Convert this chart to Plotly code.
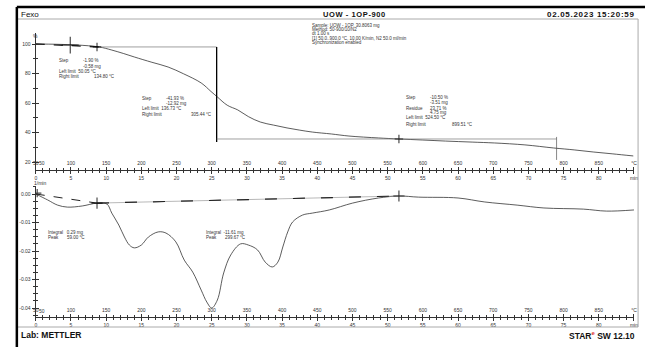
import plotly.graph_objects as go

W, H = 649, 347

# ---------------- data ----------------
tga_temp = [50, 80, 109, 140, 158, 175, 190, 215, 238, 260, 285, 299, 308, 322, 337,
            352, 369, 388, 407, 425, 443, 470, 495, 537, 566, 600, 632, 670, 702,
            745, 786, 815, 842, 870, 899]
tga_mass = [100.0, 99.8, 99.3, 98.0, 95.9, 93.5, 91.2, 87.6, 84.4, 79.8, 73.6, 67.8,
            64.1, 58.5, 55.3, 50.8, 47.1, 45.0, 43.1, 41.6, 40.3, 39.0, 37.6, 36.3,
            35.6, 34.9, 34.2, 33.5, 32.9, 31.6, 29.5, 28.2, 26.8, 25.5, 24.1]

dtg_temp = [50, 67, 81, 95, 116, 137, 151, 158, 168, 176, 183, 190, 200, 210, 224,
            235, 249, 261, 273, 285, 293, 300, 308, 317, 327, 341, 352, 365, 376,
            386, 394, 401, 408, 415, 429, 443, 467, 500, 537, 566, 594, 650, 688,
            734, 772, 828, 861, 900]
dtg_rate = [0.0, -0.0021, -0.0039, -0.0046, -0.0042, -0.0032, -0.0035, -0.0067,
            -0.0109, -0.0151, -0.0179, -0.0189, -0.0179, -0.0151, -0.0133, -0.0137,
            -0.0168, -0.0232, -0.0274, -0.0337, -0.0379, -0.0400, -0.0372, -0.0277,
            -0.0214, -0.0175, -0.0179, -0.0196, -0.0239, -0.0256, -0.0239, -0.0186,
            -0.0133, -0.0098, -0.0074, -0.0067, -0.0056, -0.0032, -0.0014, -0.0007,
            -0.0011, -0.0014, -0.0028, -0.0039, -0.0049, -0.0053, -0.0060, -0.0056]

# evaluation helper lines (TGA)
tan1_temp = [50, 140]
tan1_mass = [100.0, 98.0]
step1_h_temp = [140, 307]
step1_h_mass = [98.0, 98.0]
step_v_temp = [307, 307]
step_v_mass = [98.0, 33.6]
step2_h_temp = [307, 790]
step2_h_mass = [35.6, 35.6]
step2_v_temp = [790, 790]
step2_v_mass = [37.0, 21.4]
tga_mark_temp = [99, 137, 566]
tga_mark_mass = [99.3, 98.0, 35.6]

# evaluation helper lines (DTG)
base1_temp = [50, 137]
base1_rate = [0.0, -0.0032]
base2_temp = [137, 566]
base2_rate = [-0.0032, -0.0007]
dtg_mark_temp = [52, 137, 566]
dtg_mark_rate = [0.0003, -0.0032, -0.0007]

# axis ticks
temp_ticks = list(range(50, 901, 50))
temp_labels = [str(t) for t in range(50, 851, 50)] + ["°C"]
time_ticks = list(range(0, 86, 5))
time_labels = [str(t) for t in range(0, 81, 5)] + ["min"]
tga_ticks = [20, 40, 60, 80, 100]
tga_labels = ["20", "40", "60", "80", "100"]
dtg_ticks = [-0.04, -0.03, -0.02, -0.01, 0.0]
dtg_labels = ["-0.04", "-0.03", "-0.02", "-0.01", "0.00"]

# ---------------- geometry ----------------
def px(x, y):
    return x / W, 1 - y / H

XL, XR = 33, 638
TOP_T, TOP_B = 33, 170
BOT_T, BOT_B = 186, 317
xdom = [XL / W, XR / W]
ydom_top = [1 - TOP_B / H, 1 - TOP_T / H]
ydom_bot = [1 - BOT_B / H, 1 - BOT_T / H]
tga_range = [100 - (TOP_B - 44) / 1.475, 100 + (44 - TOP_T) / 1.475]
dtg_range = [-(BOT_B - 194) / 2850.0, (194 - BOT_T) / 2850.0]
EPS = 0.02

INK = "#333333"

fig = go.Figure()

line = dict(color=INK, width=0.8)
fig.add_trace(go.Scatter(x=tga_temp, y=tga_mass, mode="lines", line=line,
                         xaxis="x", yaxis="y", line_shape="spline"))
fig.add_trace(go.Scatter(x=tan1_temp, y=tan1_mass, mode="lines",
                         line=dict(color="#222", width=1.4, dash="dash"), xaxis="x", yaxis="y"))
fig.add_trace(go.Scatter(x=step1_h_temp, y=step1_h_mass, mode="lines",
                         line=dict(color="#777", width=0.7), xaxis="x", yaxis="y"))
fig.add_trace(go.Scatter(x=step_v_temp, y=step_v_mass, mode="lines",
                         line=dict(color="#000", width=1.3), xaxis="x", yaxis="y"))
fig.add_trace(go.Scatter(x=step2_h_temp, y=step2_h_mass, mode="lines",
                         line=dict(color="#777", width=0.7), xaxis="x", yaxis="y"))
fig.add_trace(go.Scatter(x=step2_v_temp, y=step2_v_mass, mode="lines",
                         line=dict(color="#555", width=0.7), xaxis="x", yaxis="y"))
fig.add_trace(go.Scatter(x=tga_mark_temp, y=tga_mark_mass, mode="markers",
                         marker=dict(symbol="cross-thin", size=[12, 6, 6],
                                     line=dict(color="#000", width=1.2)),
                         xaxis="x", yaxis="y"))
fig.add_trace(go.Scatter(x=[], y=[], xaxis="x2", yaxis="y"))
fig.add_trace(go.Scatter(x=[], y=[], xaxis="x", yaxis="y2"))

fig.add_trace(go.Scatter(x=dtg_temp, y=dtg_rate, mode="lines", line=line,
                         xaxis="x3", yaxis="y3", line_shape="spline"))
fig.add_trace(go.Scatter(x=base1_temp, y=base1_rate, mode="lines",
                         line=dict(color="#222", width=1.0, dash="dash"), xaxis="x3", yaxis="y3"))
fig.add_trace(go.Scatter(x=base2_temp, y=base2_rate, mode="lines",
                         line=dict(color="#999", width=0.7), xaxis="x3", yaxis="y3"))
fig.add_trace(go.Scatter(x=base2_temp, y=base2_rate, mode="lines",
                         line=dict(color="#222", width=1.2, dash="12px,16px"), xaxis="x3", yaxis="y3"))
fig.add_trace(go.Scatter(x=dtg_mark_temp, y=dtg_mark_rate, mode="markers",
                         marker=dict(symbol="cross-thin", size=[6, 8, 8],
                                     line=dict(color="#000", width=1.2)),
                         xaxis="x3", yaxis="y3"))
fig.add_trace(go.Scatter(x=[], y=[], xaxis="x4", yaxis="y3"))
fig.add_trace(go.Scatter(x=[], y=[], xaxis="x3", yaxis="y4"))

tickfont = dict(family="Liberation Sans, Arial", size=5, color="#333")
ax_common = dict(showgrid=False, zeroline=False, showline=True, linecolor="#333",
                 linewidth=1, tickcolor="#333", tickwidth=1, tickfont=tickfont,
                 ticklabeloverflow="allow")

def temp_axis(pos):
    return dict(ax_common, domain=xdom, range=[50 - EPS * 10, 900 + EPS * 10], tickmode="array",
                tickvals=temp_ticks, ticktext=temp_labels, ticks="outside",
                ticklen=3, side="top", anchor="free", position=pos,
                minor=dict(ticks="outside", ticklen=2, tick0=50, dtick=10, tickcolor="#333"))

def time_axis(y, base):
    return dict(ax_common, domain=xdom, range=[0 - EPS, 85 + EPS], tickmode="array",
                tickvals=time_ticks, ticktext=time_labels, ticks="outside",
                ticklen=3, side="bottom", anchor=y, overlaying=base,
                minor=dict(ticks="outside", ticklen=2, tick0=0, dtick=1, tickcolor="#333"))

fig.update_layout(
    width=W, height=H, autosize=False,
    margin=dict(l=0, r=0, t=0, b=0),
    paper_bgcolor="white", plot_bgcolor="white",
    showlegend=False,
    xaxis=temp_axis(ydom_top[0]),
    xaxis2=time_axis("y", "x"),
    xaxis3=temp_axis(ydom_bot[0]),
    xaxis4=time_axis("y3", "x3"),
    yaxis=dict(ax_common, domain=ydom_top, range=tga_range, anchor="x",
               tickmode="array", tickvals=tga_ticks, ticktext=tga_labels,
               ticks="outside", ticklen=3,
               minor=dict(ticks="outside", ticklen=2, tick0=0, dtick=10, tickcolor="#333")),
    yaxis2=dict(ax_common, domain=ydom_top, range=tga_range, anchor="x", overlaying="y",
                tickmode="array", tickvals=tga_ticks, showticklabels=False,
                ticks="inside", ticklen=3,
                minor=dict(ticks="inside", ticklen=2, tick0=0, dtick=10, tickcolor="#333")),
    yaxis3=dict(ax_common, domain=ydom_bot, range=dtg_range, anchor="x3",
                tickmode="array", tickvals=dtg_ticks, ticktext=dtg_labels,
                ticks="outside", ticklen=3,
                minor=dict(ticks="outside", ticklen=2, tick0=0, dtick=0.0025, tickcolor="#333")),
    yaxis4=dict(ax_common, domain=ydom_bot, range=dtg_range, anchor="x3", overlaying="y3",
                tickmode="array", tickvals=dtg_ticks, showticklabels=False,
                ticks="inside", ticklen=3,
                minor=dict(ticks="inside", ticklen=2, tick0=0, dtick=0.0025, tickcolor="#333")),
)

# frame
shapes = []
x0, y0 = px(14, 19)
x1, y1 = px(642, 327)
shapes.append(dict(type="rect", xref="paper", yref="paper", x0=x0, y0=y1, x1=x1, y1=y0,
                   line=dict(color="#aaaaaa", width=1)))
a, b = px(14, 7)
shapes.append(dict(type="line", xref="paper", yref="paper", x0=a, y0=b, x1=1, y1=b,
                   line=dict(color="#000", width=2.5)))
shapes.append(dict(type="line", xref="paper", yref="paper", x0=a, y0=b, x1=a, y1=0,
                   line=dict(color="#000", width=2.5)))
fig.update_layout(shapes=shapes)

ann = []
def text(x, y, s, size=5, bold=False, anchor="left", color="#333", family="Liberation Sans, Arial"):
    xx, yy = px(x, y)
    if bold:
        s = "<b>" + s + "</b>"
    ann.append(dict(xref="paper", yref="paper", x=xx, y=yy, text=s, showarrow=False,
                    xanchor=anchor, yanchor="middle",
                    font=dict(family=family, size=size, color=color)))

# first temperature tick label (hidden by plotly at the axis corner)
for xr, ylab in (("x", 163), ("x3", 311)):
    ann.append(dict(xref=xr, yref="paper", x=temp_ticks[0], y=1 - ylab / H,
                    text=temp_labels[0], showarrow=False, xanchor="left", yanchor="middle",
                    xshift=1, font=tickfont))

# header
text(16, 14, "Fexo", size=8, color="#111")
text(355, 14, "<span style='letter-spacing:0.6px'>UOW - 1OP-900</span>", size=7.5,
     bold=True, anchor="center", color="#111")
text(641, 14, "<span style='letter-spacing:0.7px'>02.05.2023 15:20:59</span>", size=8,
     bold=True, anchor="right", color="#111")
text(16, 335, "Lab: METTLER", size=8.5, bold=True, color="#111")
text(641, 335, "STAR<sup><span style='color:#e03030'>e</span></sup> SW 12.10", size=8.5,
     bold=True, anchor="right", color="#111")

# sample info
info = ["Sample: UOW - 1OP, 30.8063 mg", "Method: 50-900/10/N2", "dt 1.00 s",
        "[1] 50.0..900.0 °C, 10.00 K/min, N2 50.0 ml/min", "Synchronization enabled"]
for i, s in enumerate(info):
    text(310, 25 + 4.5 * i, s, size=4.5)

# axis units
text(28, 36, "%", size=5)
text(29, 183, "1/min", size=5)

# step 1
text(55, 61, "Step", size=4.5); text(79, 61, "-1.90 %", size=4.5)
text(79, 66, "-0.58 mg", size=4.5)
text(55, 71, "Left limit  50.05 °C", size=4.5)
text(55, 76, "Right limit", size=4.5); text(90, 76, "134.80 °C", size=4.5)
# step 2
text(138, 98, "Step", size=4.5); text(163, 98, "-41.93 %", size=4.5)
text(163, 103, "-12.92 mg", size=4.5)
text(138, 109, "Left limit  136.73 °C", size=4.5)
text(138, 114, "Right limit", size=4.5); text(188, 114, "305.44 °C", size=4.5)
# step 3
text(405, 97, "Step", size=4.5); text(430, 97, "-10.50 %", size=4.5)
text(430, 102, "-3.51 mg", size=4.5)
text(405, 108, "Residue", size=4.5); text(430, 108, "23.71 %", size=4.5)
text(430, 113, "4.75 mg", size=4.5)
text(405, 118, "Left limit  524.50 °C", size=4.5)
text(405, 124, "Right limit", size=4.5); text(452, 124, "899.51 °C", size=4.5)
# DTG
text(43, 232, "Integral   0.29 mg", size=4.5)
text(43, 237, "Peak       59.00 °C", size=4.5)
text(203, 232, "Integral  -11.61 mg", size=4.5)
text(203, 237, "Peak       299.67 °C", size=4.5)

fig.update_layout(annotations=ann)
fig.write_html("out.html", config={"displayModeBar": False, "staticPlot": True},
               post_script="document.body.style.margin='0';document.body.style.overflow='hidden';")
